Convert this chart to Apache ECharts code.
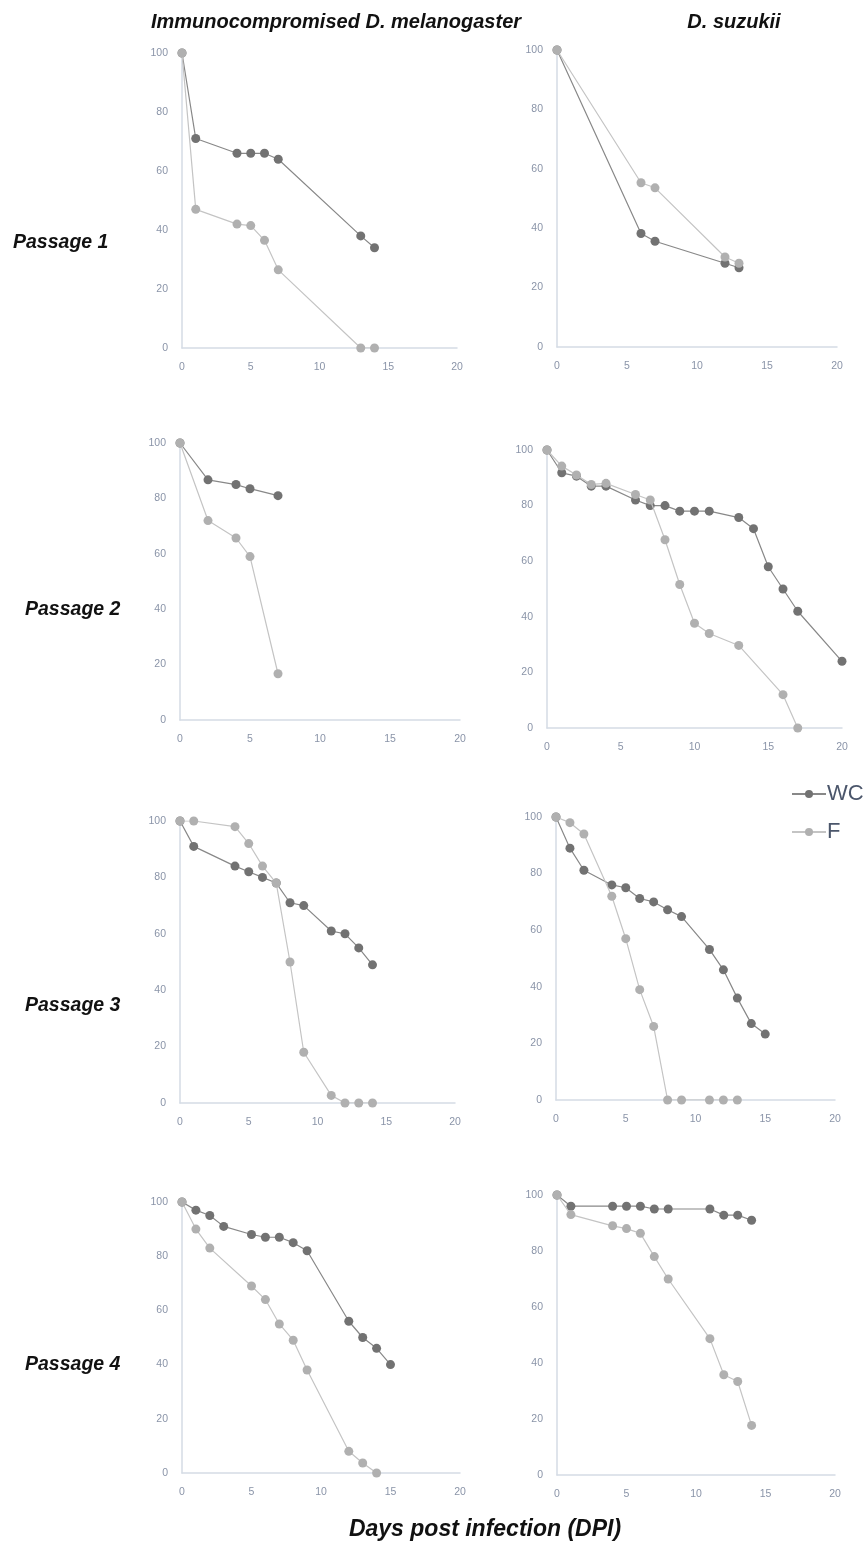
<!DOCTYPE html>
<html>
<head>
<meta charset="utf-8">
<script src="https://cdn.jsdelivr.net/npm/echarts@6/dist/echarts.min.js"></script>
<style>
html,body{margin:0;padding:0;background:#fff;}
#chart{width:866px;height:1542px;}
</style>
</head>
<body>
<div id="chart"></div>
<script>
// ---- Data: [day, % survival] ----
const columnTitles = ['Immunocompromised D. melanogaster', 'D. suzukii'];
const rowTitles = ['Passage 1', 'Passage 2', 'Passage 3', 'Passage 4'];
const seriesNames = ['WC', 'F'];
const xTicks = [0, 5, 10, 15, 20];
const yTicks = [0, 20, 40, 60, 80, 100];

// Immunocompromised D. melanogaster
const melP1_WC = [[0,100],[1,71],[4,66],[5,66],[6,66],[7,64],[13,38],[14,34]];
const melP1_F  = [[0,100],[1,47],[4,42],[5,41.5],[6,36.5],[7,26.5],[13,0],[14,0]];
const melP2_WC = [[0,100],[2,86.7],[4,85],[5,83.5],[7,81]];
const melP2_F  = [[0,100],[2,72],[4,65.7],[5,59],[7,16.7]];
const melP3_WC = [[0,100],[1,91],[4,84],[5,82],[6,80],[7,78],[8,71],[9,70],[11,61],[12,60],[13,55],[14,49]];
const melP3_F  = [[0,100],[1,100],[4,98],[5,92],[6,84],[7,78],[8,50],[9,18],[11,2.7],[12,0],[13,0],[14,0]];
const melP4_WC = [[0,100],[1,97],[2,95],[3,91],[5,88],[6,87],[7,87],[8,85],[9,82],[12,56],[13,50],[14,46],[15,40]];
const melP4_F  = [[0,100],[1,90],[2,83],[5,69],[6,64],[7,55],[8,49],[9,38],[12,8],[13,3.7],[14,0]];

// D. suzukii
const suzP1_WC = [[0,100],[6,38.2],[7,35.6],[12,28.2],[13,26.7]];
const suzP1_F  = [[0,100],[6,55.3],[7,53.6],[12,30.3],[13,28.2]];
const suzP2_WC = [[0,100],[1,91.8],[2,90.6],[3,87],[4,87],[6,82],[7,80],[8,80],[9,78],[10,78],[11,78],[13,75.7],[14,71.7],[15,58],[16,50],[17,42],[20,24]];
const suzP2_F  = [[0,100],[1,94.2],[2,91],[3,87.6],[4,88],[6,84],[7,82],[8,67.7],[9,51.6],[10,37.7],[11,34],[13,29.7],[16,12],[17,0]];
const suzP3_WC = [[0,100],[1,89],[2,81.2],[4,76],[5,75],[6,71.2],[7,70],[8,67.2],[9,64.8],[11,53.2],[12,46],[13,36],[14,27],[15,23.3]];
const suzP3_F  = [[0,100],[1,98],[2,94],[4,72],[5,57],[6,39],[7,26],[8,0],[9,0],[11,0],[12,0],[13,0]];
const suzP4_WC = [[0,100],[1,96],[4,96],[5,96],[6,96],[7,95],[8,95],[11,95],[12,92.8],[13,92.8],[14,91]];
const suzP4_F  = [[0,100],[1,93],[4,89],[5,88],[6,86.3],[7,78],[8,70],[11,48.7],[12,35.8],[13,33.4],[14,17.7]];

const panels = [
  [melP1_WC, melP1_F], [suzP1_WC, suzP1_F],
  [melP2_WC, melP2_F], [suzP2_WC, suzP2_F],
  [melP3_WC, melP3_F], [suzP3_WC, suzP3_F],
  [melP4_WC, melP4_F], [suzP4_WC, suzP4_F]
];

// ---- Layout (pixels) ----
const gridBoxes = [
  {left:182, top:53,  width:275, height:295},
  {left:557, top:50,  width:280, height:297},
  {left:180, top:443, width:280, height:277},
  {left:547, top:450, width:295, height:278},
  {left:180, top:821, width:275, height:282},
  {left:556, top:817, width:279, height:283},
  {left:182, top:1202,width:278, height:271},
  {left:557, top:1195,width:278, height:280}
];
const rowLabelPos = [{x:8,y:240},{x:20,y:607},{x:20,y:1003},{x:20,y:1362}];

const WC_COLOR = '#727272';
const WC_LINE = '#888888';
const F_COLOR = '#b0b0b0';
const F_LINE = '#c4c4c4';
const AXIS_COLOR = '#d5dbe5';
const LABEL_COLOR = '#8a94a8';
const FONT = 'Liberation Sans';

const grid = [], xAxis = [], yAxis = [], series = [];
gridBoxes.forEach((g, i) => {
  grid.push(Object.assign({containLabel:false}, g));
  xAxis.push({
    type:'value', gridIndex:i, min:xTicks[0], max:xTicks[xTicks.length-1],
    interval:xTicks[1]-xTicks[0],
    axisLine:{show:true, lineStyle:{color:AXIS_COLOR, width:1.5}},
    axisTick:{show:false}, splitLine:{show:false},
    axisLabel:{color:LABEL_COLOR, fontSize:10.5, fontFamily:FONT, margin:14}
  });
  yAxis.push({
    type:'value', gridIndex:i, min:yTicks[0], max:yTicks[yTicks.length-1],
    interval:yTicks[1]-yTicks[0],
    axisLine:{show:true, lineStyle:{color:AXIS_COLOR, width:1.5}},
    axisTick:{show:false}, splitLine:{show:false},
    axisLabel:{color:LABEL_COLOR, fontSize:10.5, fontFamily:FONT, margin:14}
  });
  const [wc, f] = panels[i];
  series.push({
    name:seriesNames[0], type:'line', xAxisIndex:i, yAxisIndex:i, data:wc,
    symbol:'circle', symbolSize:9, z:2,
    itemStyle:{color:WC_COLOR}, lineStyle:{color:WC_LINE, width:1.2}
  });
  series.push({
    name:seriesNames[1], type:'line', xAxisIndex:i, yAxisIndex:i, data:f,
    symbol:'circle', symbolSize:9, z:3,
    itemStyle:{color:F_COLOR}, lineStyle:{color:F_LINE, width:1.2}
  });
});

const titleStyle = {fontFamily:FONT, fontWeight:'bold', fontStyle:'italic', color:'#111', fontSize:20};
const title = [
  {text:columnTitles[0], left:331, top:7, textAlign:'center', textStyle:titleStyle},
  {text:columnTitles[1], left:729, top:7, textAlign:'center', textStyle:titleStyle},
  {text:'Days post infection (DPI)', left:480, top:1513, textAlign:'center', textStyle:Object.assign({}, titleStyle, {fontSize:23})}
];
rowTitles.forEach((t, i) => {
  title.push({text:t, left:rowLabelPos[i].x, top:rowLabelPos[i].y - 12, textStyle:Object.assign({}, titleStyle, {fontSize:19.5})});
});

const chart = echarts.init(document.getElementById('chart'), null, {renderer:'canvas'});
chart.setOption({
  backgroundColor:'#ffffff',
  animation:false,
  title,
  legend:{
    data:seriesNames, orient:'vertical', left:786, top:778,
    itemWidth:34, itemHeight:10, itemGap:16,
    textStyle:{fontSize:22, color:'#4b566b', fontFamily:FONT, padding:[0,0,0,-4]}
  },
  grid, xAxis, yAxis, series
});
</script>
</body>
</html>
